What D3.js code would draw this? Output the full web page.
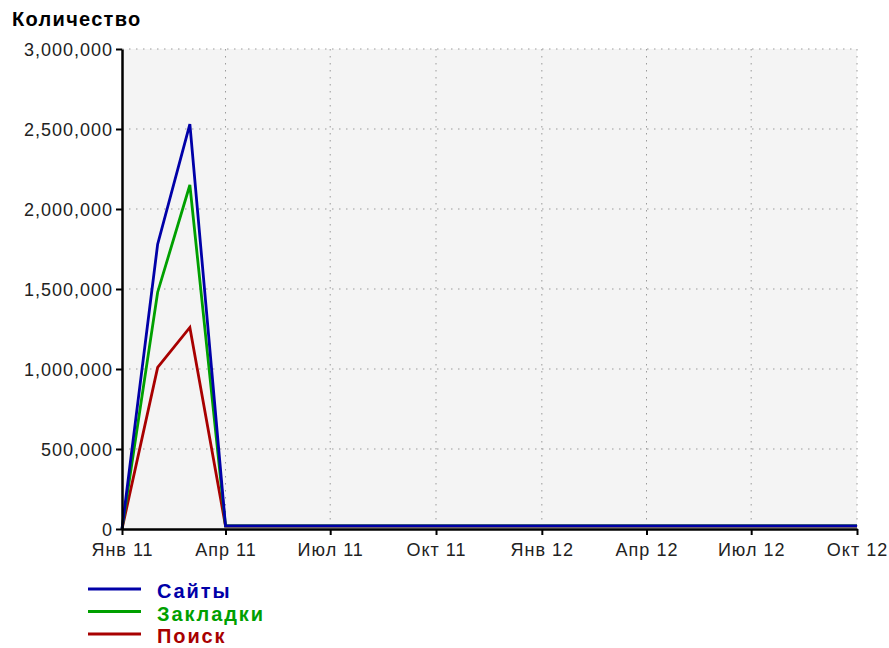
<!DOCTYPE html>
<html>
<head>
<meta charset="utf-8">
<script src="https://cdn.jsdelivr.net/npm/d3@7"></script>
<style>
	body { margin: 0; background: #fff; }
	svg { display: block; font-family: 'Liberation Sans', Arial, sans-serif; }
	.axis text { font-size: 18px; letter-spacing: 1px; fill: #222; }
	.grid line { stroke: #9a9a9a; stroke-dasharray: 1.5, 5.5; }
	.title { font-size: 20px; font-weight: bold; letter-spacing: 1.3px; }
	.legend text { font-size: 20px; font-weight: bold; letter-spacing: 1.9px; }
</style>
</head>
<body>
<svg id="chart" width="889" height="648"></svg>
<script>
const WIDTH = 889;
const HEIGHT = 648;

const MONTHS = [
	'2011-01', '2011-02', '2011-03', '2011-04', '2011-05', '2011-06',
	'2011-07', '2011-08', '2011-09', '2011-10', '2011-11', '2011-12',
	'2012-01', '2012-02', '2012-03', '2012-04', '2012-05', '2012-06',
	'2012-07', '2012-08', '2012-09', '2012-10'
];

const SITES = [
	0, 1780000, 2530000, 20000, 20000, 20000, 20000, 20000, 20000, 20000, 20000,
	20000, 20000, 20000, 20000, 20000, 20000, 20000, 20000, 20000, 20000, 20000
];
const BOOKMARKS = [
	0, 1480000, 2150000, 19000, 19000, 19000, 19000, 19000, 19000, 19000, 19000,
	19000, 19000, 19000, 19000, 19000, 19000, 19000, 19000, 19000, 19000, 19000
];
const SEARCH = [
	0, 1010000, 1260000, 18000, 18000, 18000, 18000, 18000, 18000, 18000, 18000,
	18000, 18000, 18000, 18000, 18000, 18000, 18000, 18000, 18000, 18000, 18000
];

const SERIES_NAMES = ['Сайты', 'Закладки', 'Поиск'];
const SERIES_COLORS = ['#0000a8', '#00a000', '#a80000'];

const Y_TICKS = [0, 500000, 1000000, 1500000, 2000000, 2500000, 3000000];
const X_TICKS = ['2011-01', '2011-04', '2011-07', '2011-10', '2012-01', '2012-04', '2012-07', '2012-10'];
const MONTH_LABELS = ['Янв', 'Фев', 'Мар', 'Апр', 'Май', 'Июн', 'Июл', 'Авг', 'Сен', 'Окт', 'Ноя', 'Дек'];

const margin = { top: 49, right: 32, bottom: 119, left: 122 };
const chartWidth = WIDTH - margin.left - margin.right;
const chartHeight = HEIGHT - margin.top - margin.bottom;

const parseMonth = d3.timeParse('%Y-%m');
const dates = MONTHS.map(parseMonth);

const series = [SITES, BOOKMARKS, SEARCH].map((values, i) => ({
	name: SERIES_NAMES[i],
	color: SERIES_COLORS[i],
	values: values.map((v, j) => ({ date: dates[j], value: v }))
}));

const x = d3.scaleTime()
	.domain(d3.extent(dates))
	.range([0, chartWidth]);

const y = d3.scaleLinear()
	.domain([0, 3000000])
	.range([chartHeight, 0]);

const svg = d3.select('#chart');

svg.append('text')
	.attr('class', 'title')
	.attr('x', 12)
	.attr('y', 26)
	.text('Количество');

const g = svg.append('g')
	.attr('transform', `translate(${margin.left}, ${margin.top})`);

g.append('rect')
	.attr('width', chartWidth)
	.attr('height', chartHeight)
	.attr('fill', '#f4f4f4');

// grid
const grid = g.append('g').attr('class', 'grid');
grid.selectAll('.h')
	.data(Y_TICKS.slice(1))
	.enter()
	.append('line')
	.attr('x1', 0)
	.attr('x2', chartWidth)
	.attr('y1', d => y(d))
	.attr('y2', d => y(d));
grid.selectAll('.v')
	.data(X_TICKS.slice(1).map(parseMonth))
	.enter()
	.append('line')
	.attr('x1', d => x(d))
	.attr('x2', d => x(d))
	.attr('y1', 0)
	.attr('y2', chartHeight);

// lines, first series drawn on top
const line = d3.line()
	.x(d => x(d.date))
	.y(d => y(d.value));

g.selectAll('.series')
	.data(series.slice().reverse())
	.enter()
	.append('path')
	.attr('class', 'series')
	.attr('fill', 'none')
	.attr('stroke', d => d.color)
	.attr('stroke-width', 2.8)
	.attr('d', d => line(d.values));

// axes
const axisY = d3.axisLeft(y)
	.tickValues(Y_TICKS)
	.tickSizeInner(6)
	.tickSizeOuter(0)
	.tickPadding(3)
	.tickFormat(d3.format(','));

const axisX = d3.axisBottom(x)
	.tickValues(X_TICKS.map(parseMonth))
	.tickSizeInner(6)
	.tickSizeOuter(0)
	.tickPadding(8)
	.tickFormat(d => `${MONTH_LABELS[d.getMonth()]} ${d3.timeFormat('%y')(d)}`);

const gy = g.append('g')
	.attr('class', 'axis')
	.call(axisY);

const gx = g.append('g')
	.attr('class', 'axis')
	.attr('transform', `translate(0, ${chartHeight})`)
	.call(axisX);

[gx, gy].forEach(a => {
	a.select('.domain').attr('stroke', '#000').attr('stroke-width', 2.5);
	a.selectAll('.tick line').attr('stroke', '#000').attr('stroke-width', 2);
});
gy.selectAll('.tick text').attr('dy', '0.36em');

// legend
const legend = svg.append('g')
	.attr('class', 'legend')
	.attr('transform', 'translate(88, 589)');

const item = legend.selectAll('.item')
	.data(series)
	.enter()
	.append('g')
	.attr('class', 'item')
	.attr('transform', (d, i) => `translate(0, ${i * 22.5})`);

item.append('line')
	.attr('x1', 0)
	.attr('x2', 53)
	.attr('stroke', d => d.color)
	.attr('stroke-width', 2.8);

item.append('text')
	.attr('x', 69)
	.attr('y', 9)
	.attr('fill', d => d.color)
	.text(d => d.name);
</script>
</body>
</html>
